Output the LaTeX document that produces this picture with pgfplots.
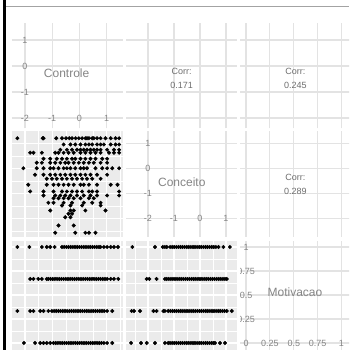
\documentclass[border=0pt]{standalone}
\usepackage{pgfplots}
\pgfplotsset{compat=1.18}
\usepackage{fontspec}
\setmainfont{Liberation Sans}
\definecolor{panelbg}{HTML}{EBEBEB}
\definecolor{gridlt}{HTML}{E3E3E3}
\definecolor{ticktxt}{HTML}{858585}
\definecolor{nametxt}{HTML}{858585}
\definecolor{corrtxt}{HTML}{6E6E6E}
\definecolor{topline}{HTML}{A3A3A3}
\pgfplotsset{
  panel/.style={scale only axis, anchor=south west,
    axis line style={draw=none},
    major tick length=0pt, minor tick length=0pt,
    xticklabels={}, yticklabels={},
    tick style={draw=none}},
  scat/.style={panel, axis background/.style={fill=panelbg},
    grid=both,
    major grid style={white, line width=1.1pt},
    minor grid style={white, line width=0.55pt}},
  blank/.style={panel, grid=major, major grid style={gridlt, line width=1.1pt}},
  col1/.style={xmin=-2.478, xmax=1.603, width=111pt, xtick={-2,-1,0,1}, minor xtick={-1.5,-0.5,0.5,1.5}},
  col2/.style={xmin=-2.846, xmax=1.404, width=110.5pt, xtick={-2,-1,0,1}, minor xtick={-2.5,-1.5,-0.5,0.5}},
  col3/.style={xmin=-0.063, xmax=1.11, width=112pt, xtick={0,0.25,0.5,0.75,1}, minor xtick={0.125,0.375,0.625,0.875}},
  row1/.style={ymin=-2.404, ymax=1.654, height=105.5pt, ytick={-2,-1,0,1}, minor ytick={-1.5,-0.5,0.5,1.5}},
  row2/.style={ymin=-2.74, ymax=1.48, height=105.5pt, ytick={-2,-1,0,1}, minor ytick={-2.5,-1.5,-0.5,0.5}},
  row3/.style={ymin=-0.094, ymax=1.0625, height=111pt, ytick={0,0.25,0.5,0.75,1}, minor ytick={0.125,0.375,0.625,0.875}},
  pts/.style={only marks, mark=*, mark size=1.8pt, black},
}
\tikzset{
  tl/.style={font=\fontsize{9}{10}\selectfont, text=ticktxt, inner sep=0pt},
  nm/.style={font=\fontsize{12}{14}\selectfont, text=nametxt, inner sep=0pt},
  cr/.style={font=\fontsize{9}{11}\selectfont, text=corrtxt, inner sep=0pt},
}
\begin{document}
\begin{tikzpicture}
\useasboundingbox (0pt,0pt) rectangle (349pt,350pt);
\clip (0pt,0pt) rectangle (349pt,350pt);
\fill[white] (0pt,0pt) rectangle (349pt,350pt);

% ---------- Row 1 ----------
\begin{axis}[blank, col1, row1, at={(12pt,221.5pt)}]
\node[tl] at (-2,1) {1};
\node[tl] at (-2,0) {0};
\node[tl] at (-2,-1) {-1};
\node[tl] at (-2,-2) {-2};
\node[tl] at (-1,-2) {-1};
\node[tl] at (0,-2) {0};
\node[tl] at (1,-2) {1};
\node[nm] at (-0.47,-0.27) {Controle};
\end{axis}
\begin{axis}[blank, col2, row1, at={(126pt,221.5pt)}]
\node[cr] at (-0.704,-0.192) {Corr:};
\node[cr] at (-0.704,-0.731) {0.171};
\end{axis}
\begin{axis}[blank, col3, row1, at={(240pt,221.5pt)}]
\node[cr] at (0.516,-0.192) {Corr:};
\node[cr] at (0.516,-0.731) {0.245};
\end{axis}

% ---------- Row 2 ----------
\begin{axis}[scat, col1, row2, at={(12pt,113pt)}]
\addplot[pts] coordinates {
(-2.28,1.21)(-1.35,1.21)(-1.32,1.21)(-0.85,1.21)(-0.64,1.21)(-0.49,1.21)(-0.37,1.21)(-0.27,1.21)(-0.14,1.21)(-0.02,1.21)(0.10,1.21)(0.22,1.21)(0.28,1.21)(0.35,1.21)(0.47,1.21)(0.53,1.21)(0.65,1.21)(0.78,1.21)(0.96,1.21)(1.15,1.21)(1.33,1.21)(1.46,1.21)
(-0.58,0.96)(-0.33,0.96)(-0.15,0.96)(0.04,0.96)(0.22,0.96)(0.35,0.96)(0.47,0.96)(0.65,0.96)(0.78,0.96)(0.90,0.96)(1.15,0.96)(1.33,0.96)(1.46,0.96)
(-0.70,0.75)(-0.46,0.75)(-0.27,0.75)(-0.09,0.75)(0.04,0.75)(0.16,0.75)(0.28,0.75)(0.41,0.75)(0.53,0.75)(0.65,0.75)(0.78,0.75)(1.02,0.75)(1.27,0.75)(1.46,0.75)
(-1.81,0.63)(-1.69,0.63)(-1.38,0.63)(-0.89,0.63)(-0.77,0.63)(-0.58,0.63)(-0.40,0.63)(-0.21,0.63)(0.04,0.63)(0.22,0.63)(0.41,0.63)(0.59,0.63)(0.78,0.63)(1.09,0.63)(1.27,0.63)(1.46,0.63)
(-1.32,0.39)(-1.07,0.39)(-0.83,0.39)(-0.64,0.39)(-0.46,0.39)(-0.27,0.39)(-0.15,0.39)(0.04,0.39)(0.22,0.39)(0.41,0.39)(0.59,0.39)(0.84,0.39)(1.02,0.39)
(-1.57,0.23)(-1.38,0.23)(-1.07,0.23)(-0.89,0.23)(-0.70,0.23)(-0.52,0.23)(-0.40,0.23)(-0.21,0.23)(-0.02,0.23)(0.16,0.23)(0.35,0.23)(0.53,0.23)(0.78,0.23)(1.02,0.23)
(-2.06,0.01)(-1.57,0.01)(-1.32,0.01)(-1.07,0.01)(-0.95,0.01)(-0.77,0.01)(-0.58,0.01)(-0.46,0.01)(-0.33,0.01)(-0.15,0.01)(0.04,0.01)(0.16,0.01)(0.28,0.01)(0.59,0.01)(0.84,0.01)(1.02,0.01)(1.21,0.01)(1.46,0.01)
(-1.63,-0.25)(-1.32,-0.25)(-1.07,-0.25)(-0.89,-0.25)(-0.70,-0.25)(-0.52,-0.25)(-0.33,-0.25)(-0.15,-0.25)(0.04,-0.25)(0.22,-0.25)(0.41,-0.25)(0.65,-0.25)(1.02,-0.25)
(-1.20,-0.41)(-1.01,-0.41)(-0.83,-0.41)(-0.64,-0.41)(-0.46,-0.41)(-0.27,-0.41)(-0.09,-0.41)(0.10,-0.41)(0.28,-0.41)(0.47,-0.41)(0.78,-0.41)
(-1.88,-0.65)(-1.20,-0.65)(-0.95,-0.65)(-0.77,-0.65)(-0.58,-0.65)(-0.40,-0.65)(-0.21,-0.65)(0.04,-0.65)(0.16,-0.65)(0.35,-0.65)(0.65,-0.65)(1.15,-0.65)(1.40,-0.65)
(-1.81,-0.92)(-1.32,-0.92)(-0.95,-0.92)(-0.64,-0.92)(-0.46,-0.92)(-0.27,-0.92)(-0.09,-0.92)(0.10,-0.92)(0.35,-0.92)(0.47,-0.92)(0.65,-0.92)(1.46,-0.92)
(-1.32,-1.08)(-0.89,-1.08)(-0.70,-1.08)(-0.52,-1.08)(-0.33,-1.08)(-0.09,-1.08)(0.16,-1.08)(0.41,-1.08)(0.65,-1.08)(1.02,-1.08)(1.46,-1.08)
(-0.95,-1.19)(-0.77,-1.19)(-0.58,-1.19)(-0.40,-1.19)(-0.21,-1.19)(0.04,-1.19)(0.35,-1.19)(0.53,-1.19)
(-1.14,-1.37)(-0.95,-1.37)(-0.58,-1.37)(-0.27,-1.37)(0.16,-1.37)(0.47,-1.37)(0.78,-1.37)
(-0.64,-1.48)(-0.33,-1.48)(0.10,-1.48)(0.78,-1.48)
(-1.07,-1.68)(-0.33,-1.68)(-0.21,-1.68)(0.22,-1.68)(0.96,-1.68)
(-0.40,-1.81)(-0.27,-1.81)
(-0.52,-1.95)(-0.33,-1.95)
(-0.77,-2.28)(-0.21,-2.28)
(-0.89,-2.57)(-0.15,-2.57)(0.22,-2.57)(0.35,-2.57)(0.59,-2.57)
};
\end{axis}
\begin{axis}[blank, col2, row2, at={(126pt,113pt)}]
\node[tl] at (-2,1) {1};
\node[tl] at (-2,0) {0};
\node[tl] at (-2,-1) {-1};
\node[tl] at (-2,-2) {-2};
\node[tl] at (-1,-2) {-1};
\node[tl] at (0,-2) {0};
\node[tl] at (1,-2) {1};
\node[nm] at (-0.70,-0.55) {Conceito};
\end{axis}
\begin{axis}[blank, col3, row2, at={(240pt,113pt)}]
\node[cr] at (0.516,-0.36) {Corr:};
\node[cr] at (0.516,-0.90) {0.289};
\end{axis}

% ---------- Row 3 ----------
\begin{axis}[scat, col1, row3, at={(12pt,-2pt)}]
\addplot[pts] coordinates {
(-2.28,1)(-1.84,1)(-1.38,1)(-1.20,1)(-1.07,1)(-0.91,1)
(-0.64,1)(-0.56,1)(-0.48,1)(-0.40,1)(-0.32,1)(-0.24,1)(-0.16,1)(-0.08,1)(0.00,1)(0.08,1)(0.16,1)(0.24,1)(0.32,1)(0.40,1)(0.48,1)(0.56,1)(0.64,1)(0.72,1)(0.78,1)
(0.90,1)(1.02,1)(1.15,1)(1.27,1)(1.42,1)
(-1.81,0.667)(-1.69,0.667)(-1.51,0.667)(-1.38,0.667)(-1.20,0.667)
(-1.14,0.667)(-1.06,0.667)(-0.98,0.667)(-0.90,0.667)(-0.82,0.667)(-0.74,0.667)(-0.66,0.667)(-0.58,0.667)(-0.50,0.667)(-0.42,0.667)(-0.34,0.667)(-0.26,0.667)(-0.18,0.667)(-0.10,0.667)(-0.02,0.667)(0.06,0.667)(0.14,0.667)(0.22,0.667)(0.30,0.667)(0.38,0.667)(0.46,0.667)(0.54,0.667)(0.62,0.667)(0.70,0.667)(0.78,0.667)(0.86,0.667)(0.94,0.667)(1.02,0.667)
(1.15,0.667)(1.27,0.667)(1.43,0.667)
(-2.28,0.333)(-1.81,0.333)(-1.69,0.333)(-1.44,0.333)(-1.32,0.333)(-1.14,0.333)
(-1.01,0.333)(-0.93,0.333)(-0.85,0.333)(-0.77,0.333)(-0.69,0.333)(-0.61,0.333)(-0.53,0.333)(-0.45,0.333)(-0.37,0.333)(-0.29,0.333)(-0.21,0.333)(-0.13,0.333)(-0.05,0.333)(0.03,0.333)(0.11,0.333)(0.19,0.333)(0.27,0.333)(0.35,0.333)(0.43,0.333)(0.51,0.333)(0.59,0.333)(0.67,0.333)(0.75,0.333)(0.83,0.333)(0.91,0.333)(1.02,0.333)
(1.21,0.333)
(-2.04,0)(-1.63,0)(-1.44,0)(-1.32,0)(-1.20,0)(-1.07,0)
(-0.95,0)(-0.87,0)(-0.79,0)(-0.71,0)(-0.63,0)(-0.55,0)(-0.47,0)(-0.39,0)(-0.31,0)(-0.23,0)(-0.15,0)(-0.07,0)(0.01,0)(0.09,0)(0.17,0)(0.25,0)(0.33,0)(0.41,0)(0.49,0)(0.57,0)(0.65,0)(0.73,0)(0.81,0)(0.90,0)
(1.02,0)(1.21,0)
};
\end{axis}
\begin{axis}[scat, col2, row3, at={(126pt,-2pt)}]
\addplot[pts] coordinates {
(-2.60,1)(-1.73,1)(-1.43,1)(-1.35,1)(-1.28,1)
(-1.15,1)(-1.07,1)(-0.99,1)(-0.91,1)(-0.83,1)(-0.75,1)(-0.67,1)(-0.59,1)(-0.51,1)(-0.43,1)(-0.35,1)(-0.27,1)(-0.19,1)(-0.11,1)(-0.03,1)(0.05,1)(0.13,1)(0.21,1)(0.29,1)(0.37,1)(0.45,1)(0.53,1)(0.61,1)(0.71,1)
(0.90,1)(1.15,1)
(-2.05,0.667)(-1.95,0.667)(-1.67,0.667)(-1.35,0.667)
(-1.28,0.667)(-1.20,0.667)(-1.12,0.667)(-1.04,0.667)(-0.96,0.667)(-0.88,0.667)(-0.80,0.667)(-0.72,0.667)(-0.64,0.667)(-0.56,0.667)(-0.48,0.667)(-0.40,0.667)(-0.32,0.667)(-0.24,0.667)(-0.16,0.667)(-0.08,0.667)(0.00,0.667)(0.08,0.667)(0.16,0.667)(0.24,0.667)(0.32,0.667)(0.40,0.667)(0.48,0.667)(0.56,0.667)(0.64,0.667)(0.72,0.667)(0.80,0.667)(0.88,0.667)(0.96,0.667)(1.03,0.667)
(-2.63,0.333)(-2.54,0.333)(-2.31,0.333)(-1.79,0.333)(-1.67,0.333)(-1.41,0.333)(-1.35,0.333)
(-1.22,0.333)(-1.14,0.333)(-1.06,0.333)(-0.98,0.333)(-0.90,0.333)(-0.82,0.333)(-0.74,0.333)(-0.66,0.333)(-0.58,0.333)(-0.50,0.333)(-0.42,0.333)(-0.34,0.333)(-0.26,0.333)(-0.18,0.333)(-0.10,0.333)(-0.02,0.333)(0.06,0.333)(0.14,0.333)(0.22,0.333)(0.30,0.333)(0.38,0.333)(0.46,0.333)(0.54,0.333)(0.62,0.333)(0.70,0.333)(0.78,0.333)(0.86,0.333)(0.94,0.333)(1.03,0.333)
(1.22,0.333)
(-2.65,0)(-2.27,0)(-2.05,0)(-1.73,0)(-1.35,0)(-1.22,0)
(-1.15,0)(-1.07,0)(-0.99,0)(-0.91,0)(-0.83,0)(-0.75,0)(-0.67,0)(-0.59,0)(-0.51,0)(-0.43,0)(-0.35,0)(-0.27,0)(-0.19,0)(-0.11,0)(-0.03,0)(0.05,0)(0.13,0)(0.21,0)(0.29,0)(0.37,0)(0.45,0)(0.53,0)(0.58,0)
(0.77,0)(0.96,0)
};
\end{axis}
\begin{axis}[blank, col3, row3, at={(240pt,-2pt)}]
\node[tl] at (0,1) {1};
\node[tl] at (0,0.75) {0.75};
\node[tl] at (0,0.5) {0.5};
\node[tl] at (0,0.25) {0.25};
\node[tl] at (0,0) {0};
\node[tl] at (0.25,0) {0.25};
\node[tl] at (0.5,0) {0.5};
\node[tl] at (0.75,0) {0.75};
\node[tl] at (1,0) {1};
\node[nm] at (0.513,0.524) {Motivacao};
\end{axis}

% frame elements
\fill[black] (3pt,0pt) rectangle (6pt,350pt);
\draw[topline, line width=1pt] (6pt,343.8pt) -- (349pt,343.8pt);
\end{tikzpicture}
\end{document}
